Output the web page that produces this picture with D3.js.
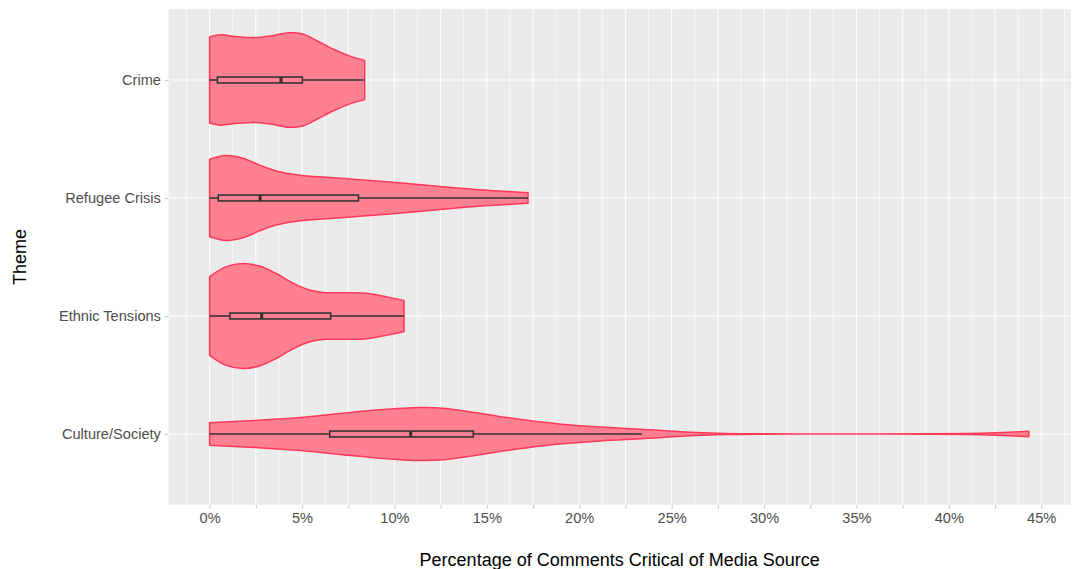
<!DOCTYPE html>
<html>
<head>
<meta charset="utf-8">
<script src="https://cdn.jsdelivr.net/npm/d3@7"></script>
<style>
  html, body { margin: 0; padding: 0; background: #ffffff; }
  svg { display: block; font-family: "Liberation Sans", Arial, sans-serif; }
</style>
</head>
<body>
<svg id="chart" width="1075" height="569"></svg>
<script>
// ---------------- DATA ----------------
const themes = ["Crime", "Refugee Crisis", "Ethnic Tensions", "Culture/Society"];

// violin density profiles: [percentage, relative density (max = 1)]
const densityCrime = [[0,0.81],[0.6,0.85],[1.4,0.82],[2.5,0.80],[3.3,0.83],[4.3,0.89],[5.0,0.87],[5.8,0.74],[6.7,0.58],[7.6,0.45],[8.39,0.37]];
const densityRefugee = [[0,0.73],[0.9,0.80],[1.8,0.75],[2.7,0.62],[3.6,0.51],[4.9,0.43],[6.3,0.39],[8.1,0.345],[9.9,0.296],[11.75,0.24],[13.55,0.183],[15.35,0.138],[17.23,0.10]];
const densityEthnic = [[0,0.74],[0.9,0.93],[1.8,0.99],[2.7,0.94],[3.6,0.80],[4.5,0.62],[5.4,0.49],[6.3,0.44],[7.4,0.44],[8.5,0.43],[9.6,0.36],[10.52,0.29]];
const densityCulture = [[0,0.21],[2.7,0.26],[5.1,0.315],[7.2,0.39],[9.0,0.45],[11.4,0.50],[12.65,0.485],[14.45,0.40],[16.25,0.30],[18.06,0.22],[18.9,0.19],[21.15,0.13],[23.5,0.087],[24.8,0.057],[26.3,0.028],[27.9,0.01],[29.5,0.003],[32,0.001],[36,0.001],[39,0.003],[41,0.008],[42.5,0.022],[44.33,0.05]];
const densities = [densityCrime, densityRefugee, densityEthnic, densityCulture];

// boxplot stats: [lower whisker, Q1, median, Q3, upper whisker]
const boxCrime = [0, 0.42, 3.86, 5.02, 8.39];
const boxRefugee = [0, 0.47, 2.73, 8.05, 17.23];
const boxEthnic = [0, 1.1, 2.82, 6.55, 10.52];
const boxCulture = [0, 6.5, 10.88, 14.27, 23.4];
const boxes = [boxCrime, boxRefugee, boxEthnic, boxCulture];

const xBreaks = [0, 2.5, 5, 7.5, 10, 12.5, 15, 17.5, 20, 22.5, 25, 27.5, 30, 32.5, 35, 37.5, 40, 42.5, 45];
const xTickLabels = ["0%", "", "5%", "", "10%", "", "15%", "", "20%", "", "25%", "", "30%", "", "35%", "", "40%", "", "45%"];
const xMinorBreaks = [-1.25, 1.25, 3.75, 6.25, 8.75, 11.25, 13.75, 16.25, 18.75, 21.25, 23.75, 26.25, 28.75, 31.25, 33.75, 36.25, 38.75, 41.25, 43.75, 46.25];

const xTitle = "Percentage of Comments Critical of Media Source";
const yTitle = "Theme";

// ---------------- LAYOUT ----------------
const panel = { left: 168.6, right: 1070.8, top: 9.2, bottom: 504.8 };
const svg = d3.select("#chart");

const x = d3.scaleLinear().domain([-2.22, 46.6]).range([panel.left, panel.right]);
const y = d3.scalePoint().domain(themes).range([panel.top, panel.bottom]).padding(0.6);
const step = y.step();
const w = d3.scaleLinear().domain([0, 1]).range([0, step * 0.45]);

const violinFill = "#ff8191";
const violinStroke = "#ff3a58";

// panel background
svg.append("rect")
  .attr("x", panel.left).attr("y", panel.top)
  .attr("width", panel.right - panel.left).attr("height", panel.bottom - panel.top)
  .attr("fill", "#ebebeb");

// gridlines
const grid = svg.append("g");
grid.selectAll("line.minor").data(xMinorBreaks.filter(d => x(d) > panel.left && x(d) < panel.right))
  .join("line").attr("class", "minor")
  .attr("x1", d => x(d)).attr("x2", d => x(d))
  .attr("y1", panel.top).attr("y2", panel.bottom)
  .attr("stroke", "#ffffff").attr("stroke-width", 0.6);
grid.selectAll("line.major").data(xBreaks)
  .join("line").attr("class", "major")
  .attr("x1", d => x(d)).attr("x2", d => x(d))
  .attr("y1", panel.top).attr("y2", panel.bottom)
  .attr("stroke", "#ffffff").attr("stroke-width", 1.1);
grid.selectAll("line.hmajor").data(themes)
  .join("line").attr("class", "hmajor")
  .attr("x1", panel.left).attr("x2", panel.right)
  .attr("y1", d => y(d)).attr("y2", d => y(d))
  .attr("stroke", "#ffffff").attr("stroke-width", 1.1);

// violins
themes.forEach((t, i) => {
  const cy = y(t);
  const area = d3.area()
    .x(d => x(d[0]))
    .y0(d => cy - w(d[1]))
    .y1(d => cy + w(d[1]))
    .curve(d3.curveCatmullRom.alpha(0.5));
  svg.append("path")
    .datum(densities[i])
    .attr("d", area)
    .attr("fill", violinFill)
    .attr("stroke", violinStroke)
    .attr("stroke-width", 1.5)
    .attr("stroke-linejoin", "round");
});

// boxplots
const boxH = step * 0.05;
themes.forEach((t, i) => {
  const cy = y(t);
  const b = boxes[i];
  const g = svg.append("g").attr("stroke", "#333333").attr("fill", "none");
  g.append("line").attr("x1", x(b[0])).attr("x2", x(b[1])).attr("y1", cy).attr("y2", cy).attr("stroke-width", 1.6);
  g.append("line").attr("x1", x(b[3])).attr("x2", x(b[4])).attr("y1", cy).attr("y2", cy).attr("stroke-width", 1.6);
  g.append("rect").attr("x", x(b[1])).attr("y", cy - boxH / 2)
    .attr("width", x(b[3]) - x(b[1])).attr("height", boxH).attr("stroke-width", 1.6);
  g.append("line").attr("x1", x(b[2])).attr("x2", x(b[2]))
    .attr("y1", cy - boxH / 2).attr("y2", cy + boxH / 2).attr("stroke-width", 3);
});

// x axis
const xAxis = d3.axisBottom(x).tickValues(xBreaks)
  .tickFormat((d, i) => xTickLabels[i]).tickSize(3.7).tickPadding(4);
const gx = svg.append("g").attr("transform", `translate(0,${panel.bottom})`).call(xAxis);
gx.select(".domain").remove();
gx.selectAll(".tick line").attr("stroke", "#cccccc").attr("stroke-width", 1.1);
gx.selectAll(".tick text").attr("fill", "#4d4d4d").attr("font-size", "14.6px")
  .attr("font-family", "Liberation Sans, Arial, sans-serif");

// y axis
const yAxis = d3.axisLeft(y).tickSize(3.7).tickPadding(4);
const gy = svg.append("g").attr("transform", `translate(${panel.left},0)`).call(yAxis);
gy.select(".domain").remove();
gy.selectAll(".tick line").attr("stroke", "#cccccc").attr("stroke-width", 1.1);
gy.selectAll(".tick text").attr("fill", "#4d4d4d").attr("font-size", "14.6px")
  .attr("font-family", "Liberation Sans, Arial, sans-serif");

// titles
svg.append("text")
  .attr("x", (panel.left + panel.right) / 2).attr("y", 566)
  .attr("text-anchor", "middle").attr("font-size", "18px").attr("fill", "#000000")
  .text(xTitle);
svg.append("text")
  .attr("transform", `translate(26,${(panel.top + panel.bottom) / 2}) rotate(-90)`)
  .attr("text-anchor", "middle").attr("font-size", "18px").attr("fill", "#000000")
  .text(yTitle);
</script>
</body>
</html>
